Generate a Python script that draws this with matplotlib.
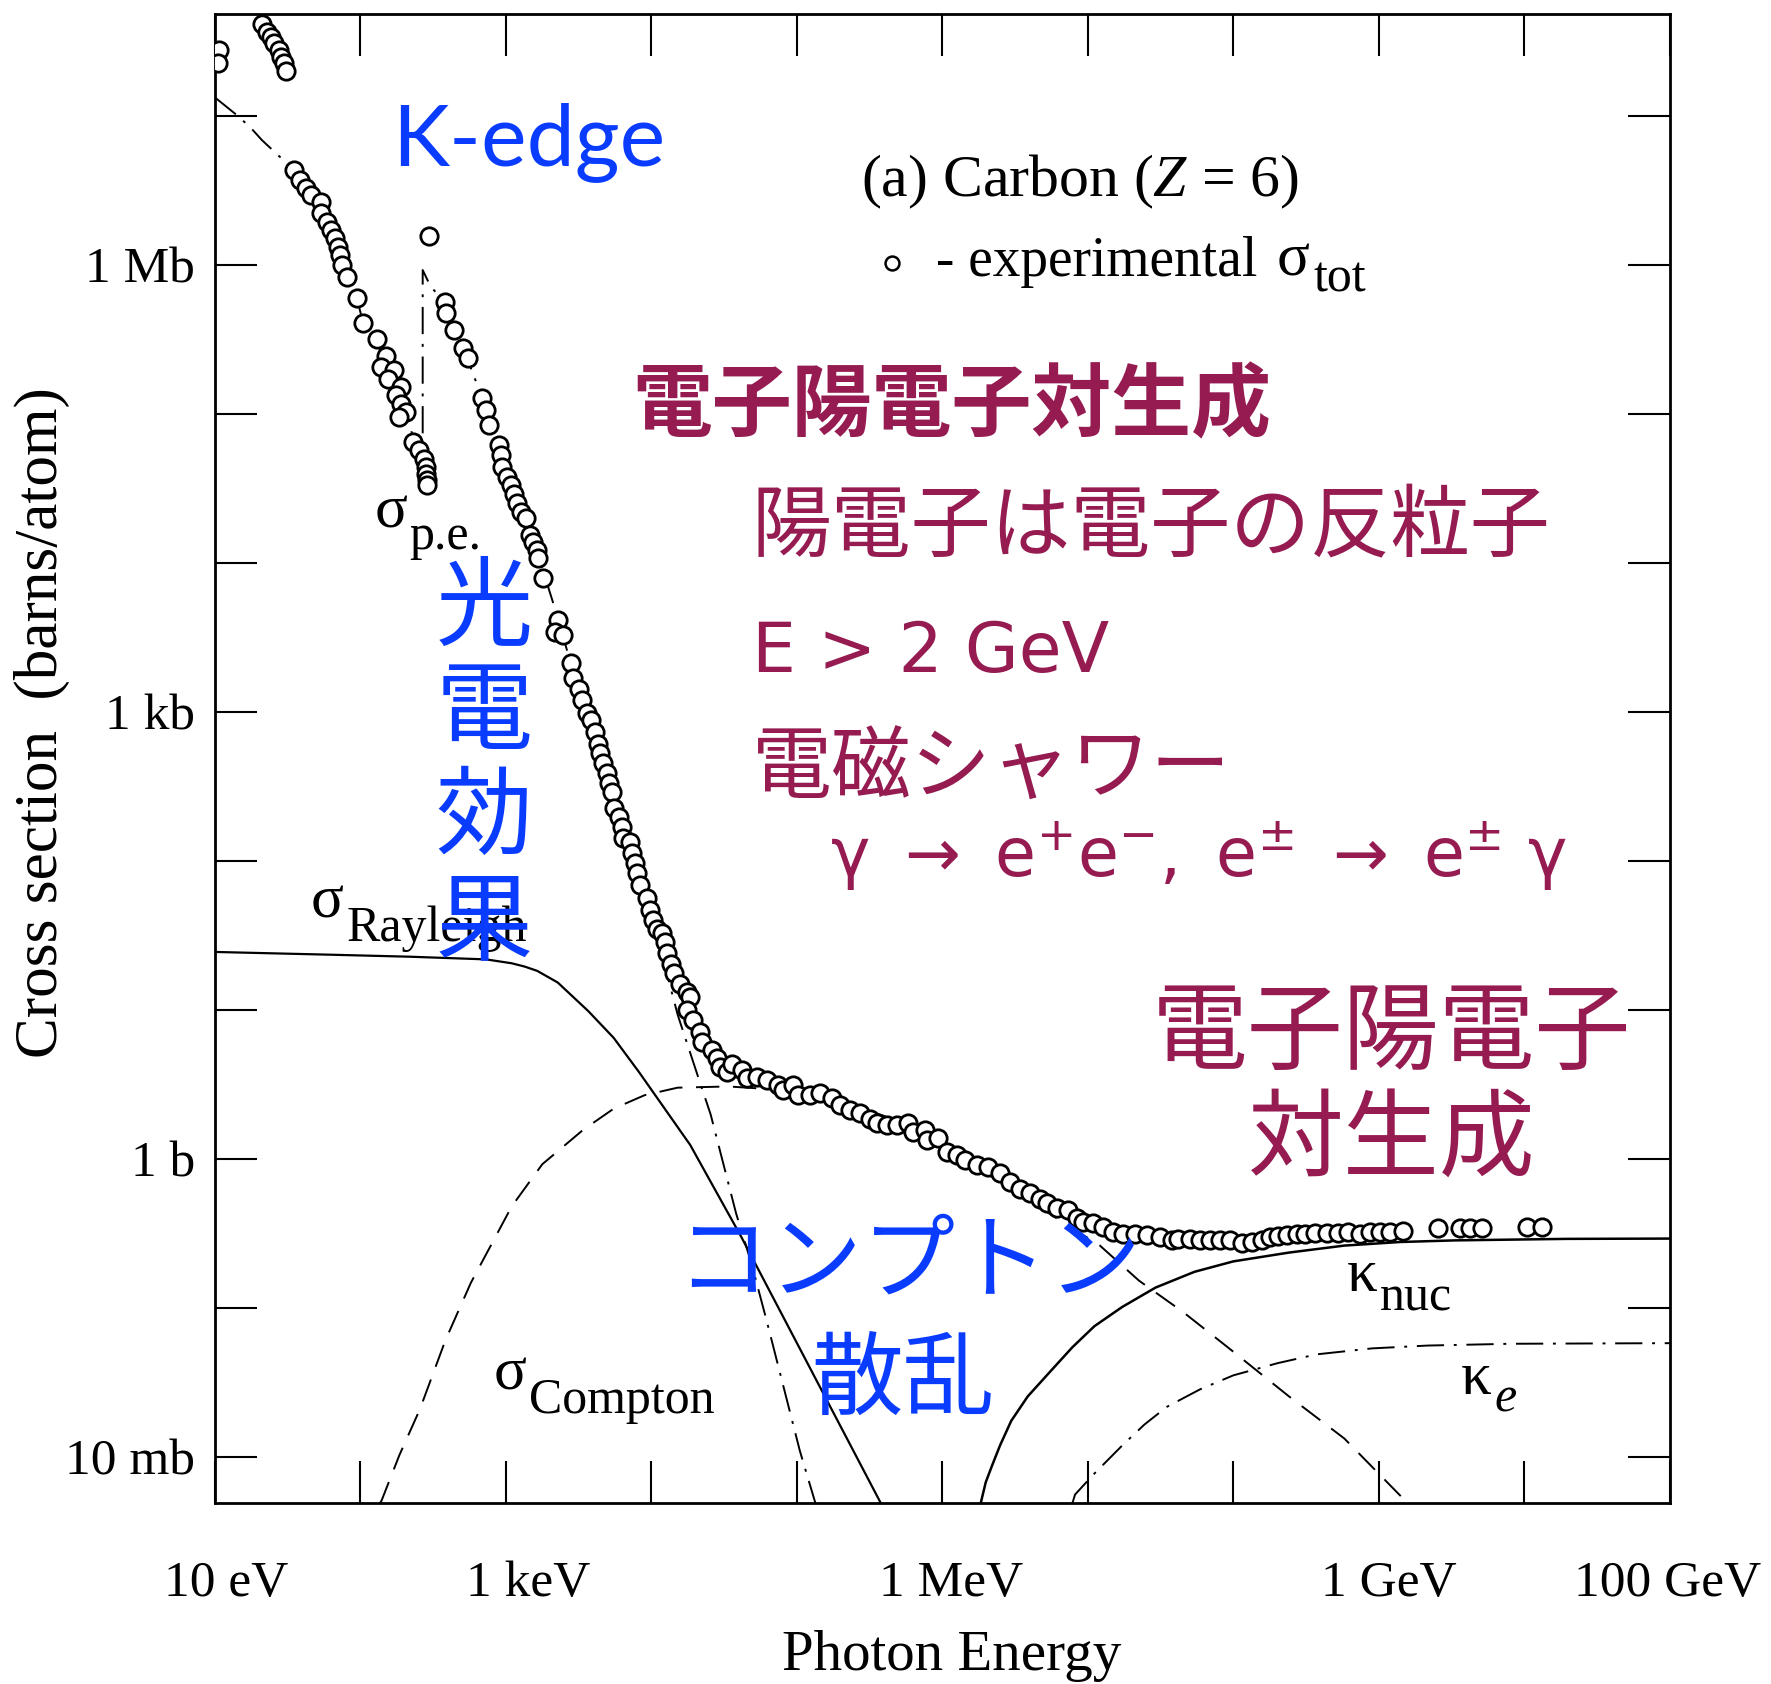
import numpy as np
import matplotlib
matplotlib.use("Agg")
import matplotlib.pyplot as plt
from matplotlib.ticker import FixedLocator, NullLocator, FixedFormatter
from matplotlib.transforms import ScaledTranslation

# ---------------- data: log10(photon energy / eV), log10(cross section / barn) ----------------
# experimental total cross section (open circles)
exp_vuv_logE = [1.031, 1.023, 1.326, 1.357, 1.388, 1.411, 1.443, 1.458, 1.474, 1.489]
exp_vuv_logS = [7.445, 7.354, 7.619, 7.566, 7.528, 7.491, 7.445, 7.400, 7.354, 7.301]

exp_belowK_logE = [1.546, 1.587, 1.626, 1.661, 1.729, 1.734, 1.775, 1.798, 1.825, 1.849, 1.862,
                   1.878, 1.908, 1.977, 2.020, 2.119, 2.176, 2.141, 2.233, 2.192, 2.279, 2.245,
                   2.279, 2.314, 2.268, 2.363, 2.405, 2.439, 2.451, 2.455, 2.462, 2.462]
exp_belowK_logS = [6.638, 6.570, 6.515, 6.470, 6.425, 6.347, 6.290, 6.235, 6.179, 6.123, 6.067,
                   6.000, 5.921, 5.781, 5.613, 5.501, 5.389, 5.318, 5.299, 5.239, 5.183, 5.127,
                   5.071, 5.015, 4.982, 4.814, 4.758, 4.702, 4.646, 4.601, 4.557, 4.523]

exp_edge_logE = [2.474]
exp_edge_logS = [6.194]

exp_aboveK_logE = [2.582, 2.589, 2.645, 2.710, 2.738, 2.840, 2.863, 2.886, 2.955, 2.967,
                   2.978, 3.012, 3.035, 3.058, 3.081, 3.104, 3.138, 3.168, 3.191, 3.213,
                   3.225, 3.255, 3.363, 3.339, 3.397, 3.447, 3.466, 3.507, 3.523, 3.557,
                   3.585, 3.615, 3.637, 3.649, 3.668, 3.695, 3.713, 3.729, 3.745, 3.782,
                   3.798, 3.810, 3.856, 3.866, 3.890, 3.901, 3.924, 3.970, 3.993, 4.016,
                   4.043, 4.073, 4.095, 4.107, 4.135, 4.158, 4.199, 4.245, 4.268, 4.245,
                   4.291, 4.336, 4.348, 4.417, 4.451, 4.474, 4.519]
exp_aboveK_logS = [5.754, 5.676, 5.563, 5.441, 5.374, 5.105, 5.027, 4.926, 4.792, 4.725,
                   4.646, 4.579, 4.523, 4.467, 4.400, 4.344, 4.300, 4.188, 4.143, 4.087,
                   4.031, 3.897, 3.617, 3.539, 3.516, 3.327, 3.226, 3.158, 3.080, 2.991,
                   2.945, 2.867, 2.789, 2.722, 2.655, 2.588, 2.521, 2.465, 2.353, 2.297,
                   2.230, 2.152, 2.129, 2.051, 1.984, 1.917, 1.839, 1.749, 1.670, 1.603,
                   1.547, 1.514, 1.458, 1.380, 1.312, 1.246, 1.178, 1.122, 1.089, 0.999,
                   0.933, 0.854, 0.787, 0.731, 0.675, 0.619, 0.585]

exp_compton_logE = [4.554, 4.623, 4.657, 4.726, 4.794, 4.875, 4.909, 4.977, 5.012, 5.092,
                    5.161, 5.241, 5.299, 5.367, 5.436, 5.505, 5.550, 5.620, 5.688, 5.768,
                    5.803, 5.883, 5.894, 5.974, 6.032, 6.101, 6.158, 6.238, 6.318, 6.398,
                    6.467, 6.536, 6.605, 6.673, 6.719, 6.788, 6.868, 6.925, 6.971, 7.040,
                    7.109, 7.177, 7.246, 7.326, 7.407, 7.498, 7.578]
exp_compton_logS = [0.641, 0.597, 0.541, 0.552, 0.530, 0.496, 0.462, 0.496, 0.429, 0.429,
                    0.440, 0.407, 0.362, 0.328, 0.306, 0.272, 0.239, 0.227, 0.227, 0.239,
                    0.183, 0.194, 0.127, 0.138, 0.049, 0.027, -0.008, -0.041, -0.052, -0.096,
                    -0.153, -0.198, -0.231, -0.265, -0.298, -0.331, -0.343, -0.399, -0.422, -0.432,
                    -0.455, -0.488, -0.500, -0.500, -0.511, -0.522, -0.544]

exp_pair_logE = [7.624, 7.704, 7.773, 7.842, 7.911, 7.979, 8.060, 8.128, 8.197, 8.254,
                 8.311, 8.369, 8.438, 8.495, 8.564, 8.644, 8.724, 8.793, 8.873, 8.942,
                 9.010, 9.079, 9.171, 9.412, 9.561, 9.629, 9.709, 10.019, 10.122]
exp_pair_logS = [-0.540, -0.540, -0.544, -0.544, -0.544, -0.544, -0.566, -0.556, -0.544, -0.526,
                 -0.517, -0.511, -0.504, -0.500, -0.495, -0.495, -0.495, -0.488, -0.500, -0.488,
                 -0.488, -0.488, -0.481, -0.466, -0.466, -0.466, -0.466, -0.459, -0.455]

# photoelectric absorption (dash-dot)
pe_logE = [1.000, 1.155, 1.248, 1.326, 1.546, 1.626, 1.729, 1.798, 1.849, 1.908, 1.977, 2.020,
           2.119, 2.200, 2.279, 2.363, 2.405, 2.430, 2.430, 2.485, 2.582, 2.645, 2.710, 2.840,
           2.955, 3.035, 3.138, 3.213, 3.363, 3.447, 3.523, 3.615, 3.695, 3.782, 3.866, 3.970,
           4.043, 4.107, 4.183, 4.339, 4.409, 4.585, 4.690, 4.795, 5.023, 5.130]
pe_logS = [7.127, 7.005, 6.922, 6.838, 6.638, 6.515, 6.390, 6.250, 6.120, 5.920, 5.781, 5.613,
           5.470, 5.300, 5.120, 4.850, 4.720, 4.550, 5.967, 5.855, 5.754, 5.563, 5.441, 5.105,
           4.792, 4.523, 4.300, 4.087, 3.620, 3.327, 3.080, 2.867, 2.588, 2.297, 2.051, 1.700,
           1.470, 1.250, 0.967, 0.504, 0.300, -0.368, -0.702, -1.088, -1.961, -2.312]

# Rayleigh (solid)
ray_logE = [1.000, 1.814, 2.340, 2.866, 3.041, 3.130, 3.217, 3.358, 3.568, 3.743, 3.918, 4.269, 4.620, 5.580]
ray_logS = [1.390, 1.371, 1.358, 1.340, 1.314, 1.292, 1.263, 1.185, 0.993, 0.813, 0.582, 0.094, -0.523, -2.312]

# Compton (dashed)
compton_logE = [2.135, 2.148, 2.270, 2.411, 2.586, 2.761, 3.042, 3.252, 3.533, 3.743, 3.954, 4.182,
                4.532, 4.800, 5.200, 5.600, 6.000, 6.500, 7.085, 7.353, 7.658, 7.964, 8.384, 8.765,
                9.166, 9.200]
compton_logS = [-2.312, -2.291, -1.987, -1.679, -1.217, -0.831, -0.318, -0.035, 0.196, 0.338, 0.428, 0.479,
                0.487, 0.470, 0.420, 0.290, 0.100, -0.220, -0.581, -0.816, -1.028, -1.264, -1.593, -1.876,
                -2.276, -2.312]

# pair production, nuclear field (solid)
knuc_logE = [6.265, 6.300, 6.341, 6.398, 6.475, 6.589, 6.742, 6.895, 7.047, 7.238, 7.467, 7.735, 8.002,
             8.384, 8.765, 9.147, 9.529, 10.293, 11.000]
knuc_logS = [-2.312, -2.170, -2.064, -1.923, -1.758, -1.593, -1.428, -1.264, -1.122, -0.993, -0.863, -0.757, -0.687,
             -0.628, -0.581, -0.557, -0.546, -0.536, -0.534]

# pair production, electron field (dash-dot)
ke_logE = [6.895, 6.914, 7.047, 7.238, 7.391, 7.544, 7.773, 8.002, 8.307, 8.575, 8.956, 9.338, 9.911, 11.000]
ke_logS = [-2.312, -2.252, -2.111, -1.923, -1.782, -1.664, -1.546, -1.452, -1.370, -1.311, -1.271, -1.252, -1.240, -1.236]

# axis ticks
xtick_logE = list(range(1, 12))
xtick_text = ['10 eV', '', '1 keV', '', '', '1 MeV', '', '', '1 GeV', '', '100 GeV']
ytick_logS = list(range(-2, 8))
ytick_text = ['10 mb', '', '1 b', '', '', '1 kb', '', '', '1 Mb', '']

BLUE = '#0a3cff'
MAROON = '#951b51'
SERIF = ['Liberation Serif', 'DejaVu Serif']
JP = ['Noto Sans CJK JP', 'DejaVu Sans']

plt.rcParams['font.family'] = SERIF
plt.rcParams['mathtext.fontset'] = 'custom'
plt.rcParams['mathtext.rm'] = 'Liberation Serif'
plt.rcParams['mathtext.it'] = 'Liberation Serif:italic'


def p10(a):
    return 10.0 ** np.asarray(a, dtype=float)


fig = plt.figure(figsize=(17.71, 16.84), dpi=100)
ax = fig.add_axes([0.1212, 0.1072, 0.8215, 0.8847])
ax.set_xscale('log')
ax.set_yscale('log')

dashdot = (0, (14, 5, 1.5, 5))
ax.plot(p10(ray_logE), p10(ray_logS), color='black', lw=1.6, zorder=2)
ax.plot(p10(compton_logE), p10(compton_logS), color='black', lw=1.4, ls=(0, (12, 7)), zorder=2)
ax.plot(p10(pe_logE), p10(pe_logS), color='black', lw=1.4, ls=dashdot, zorder=2)
ax.plot(p10(knuc_logE), p10(knuc_logS), color='black', lw=1.8, zorder=2)
ax.plot(p10(ke_logE), p10(ke_logS), color='black', lw=1.4, ls=dashdot, zorder=2)

for xs, ys in [(exp_vuv_logE, exp_vuv_logS), (exp_belowK_logE, exp_belowK_logS),
               (exp_edge_logE, exp_edge_logS), (exp_aboveK_logE, exp_aboveK_logS),
               (exp_compton_logE, exp_compton_logS), (exp_pair_logE, exp_pair_logS)]:
    ax.plot(p10(xs), p10(ys), ls='none', marker='o', ms=12.5, mfc='white', mec='black',
            mew=2.0, zorder=3)

ax.set_xlim(1e1, 1e11)
ax.set_ylim(10 ** -2.312, 10 ** 7.688)

ax.xaxis.set_major_locator(FixedLocator(p10(xtick_logE)))
ax.xaxis.set_major_formatter(FixedFormatter(xtick_text))
ax.yaxis.set_major_locator(FixedLocator(p10(ytick_logS)))
ax.yaxis.set_major_formatter(FixedFormatter(ytick_text))
ax.xaxis.set_minor_locator(NullLocator())
ax.yaxis.set_minor_locator(NullLocator())
ax.tick_params(which='major', direction='in', length=30, width=1.5, top=True, right=True,
               labelsize=37)
ax.tick_params(axis='x', pad=41)
ax.tick_params(axis='y', pad=14)
for sp in ax.spines.values():
    sp.set_linewidth(2.0)

# small horizontal nudges of x tick labels (pixels)
x_label_dx = [12, 0, 23, 0, 0, 9, 0, 0, 10, 0, -2]
for tick, dx in zip(ax.xaxis.get_major_ticks(), x_label_dx):
    tick.label1.set_transform(tick.label1.get_transform() +
                              ScaledTranslation(dx / 100.0, 0, fig.dpi_scale_trans))

fig.text(0.0237, 0.5707, 'Cross section  (barns/atom)', rotation=90, ha='center', va='center',
         fontsize=44)
fig.text(0.5375, 0.0086, 'Photon Energy', ha='center', va='baseline', fontsize=41)

T = ax.transAxes
# header / legend
ax.text(0.4440, 0.8772, r'(a) Carbon ($Z$ = 6)', transform=T, fontsize=43, ha='left', va='baseline')
ax.plot([0.4658], [0.8324], transform=T, ls='none', marker='o', ms=10, mfc='white', mec='black',
        mew=1.8, clip_on=False)
ax.text(0.4961, 0.8241, '- experimental', transform=T, fontsize=40, ha='left', va='baseline')
ax.text(0.7298, 0.8241, 'σ', transform=T, fontsize=44, ha='left', va='baseline')
ax.text(0.7554, 0.8135, 'tot', transform=T, fontsize=36, ha='left', va='baseline')

# curve labels
ax.text(0.1102, 0.6550, 'σ', transform=T, fontsize=44, ha='left', va='baseline')
ax.text(0.1335, 0.6406, 'p.e.', transform=T, fontsize=36, ha='left', va='baseline')
ax.text(0.0660, 0.3935, 'σ', transform=T, fontsize=44, ha='left', va='baseline')
ax.text(0.0908, 0.3776, 'Rayleigh', transform=T, fontsize=36, ha='left', va='baseline')
ax.text(0.1918, 0.0766, 'σ', transform=T, fontsize=44, ha='left', va='baseline')
ax.text(0.2158, 0.0607, 'Compton', transform=T, fontsize=36, ha='left', va='baseline')
ax.text(0.7780, 0.1425, 'κ', transform=T, fontsize=44, ha='left', va='baseline')
ax.text(0.8012, 0.1296, 'nuc', transform=T, fontsize=36, ha='left', va='baseline')
ax.text(0.8564, 0.0735, 'κ', transform=T, fontsize=44, ha='left', va='baseline')
ax.text(0.8797, 0.0614, 'e', transform=T, fontsize=36, ha='left', va='baseline', style='italic')

# annotations
ax.text(0.1219, 0.8984, 'K-edge', transform=T, fontsize=62, family=['Lato', 'DejaVu Sans'],
        color=BLUE, ha='left', va='baseline')
ax.text(0.2870, 0.7360, '電子陽電子対生成', transform=T, fontsize=57.5, family=JP, weight='bold',
        color=MAROON, ha='left', va='center')
ax.text(0.3690, 0.6555, '陽電子は電子の反粒子', transform=T, fontsize=57.5, family=JP,
        color=MAROON, ha='left', va='center')
ax.text(0.3692, 0.5582, 'E > 2 GeV', transform=T, fontsize=50, family=['DejaVu Sans'],
        color=MAROON, ha='left', va='baseline')
ax.text(0.3690, 0.4925, '電磁シャワー', transform=T, fontsize=57.5, family=JP,
        color=MAROON, ha='left', va='center')
ax.text(0.4231, 0.4352,
        r'$\mathrm{γ\ \rightarrow\ e^{+}e^{-},\ e^{\pm}\ \rightarrow\ e^{\pm}\ γ}$',
        transform=T, fontsize=48, math_fontfamily='dejavusans', color=MAROON, ha='left', va='center')
ax.text(0.8090, 0.3150, '電子陽電子', transform=T, fontsize=69, family=JP,
        color=MAROON, ha='center', va='center')
ax.text(0.8090, 0.2435, '対生成', transform=T, fontsize=69, family=JP,
        color=MAROON, ha='center', va='center')
for ch, fy in zip('光電効果', [0.5994, 0.5300, 0.4590, 0.3890]):
    ax.text(0.1852, fy, ch, transform=T, fontsize=70, family=JP, color=BLUE,
            ha='center', va='center')
ax.text(0.3170, 0.1608, 'コンプトン', transform=T, fontsize=67, family=JP, color=BLUE,
        ha='left', va='center')
ax.text(0.4728, 0.0815, '散乱', transform=T, fontsize=66, family=JP, color=BLUE,
        ha='center', va='center')

fig.savefig('out.png', dpi=100, facecolor='white')
